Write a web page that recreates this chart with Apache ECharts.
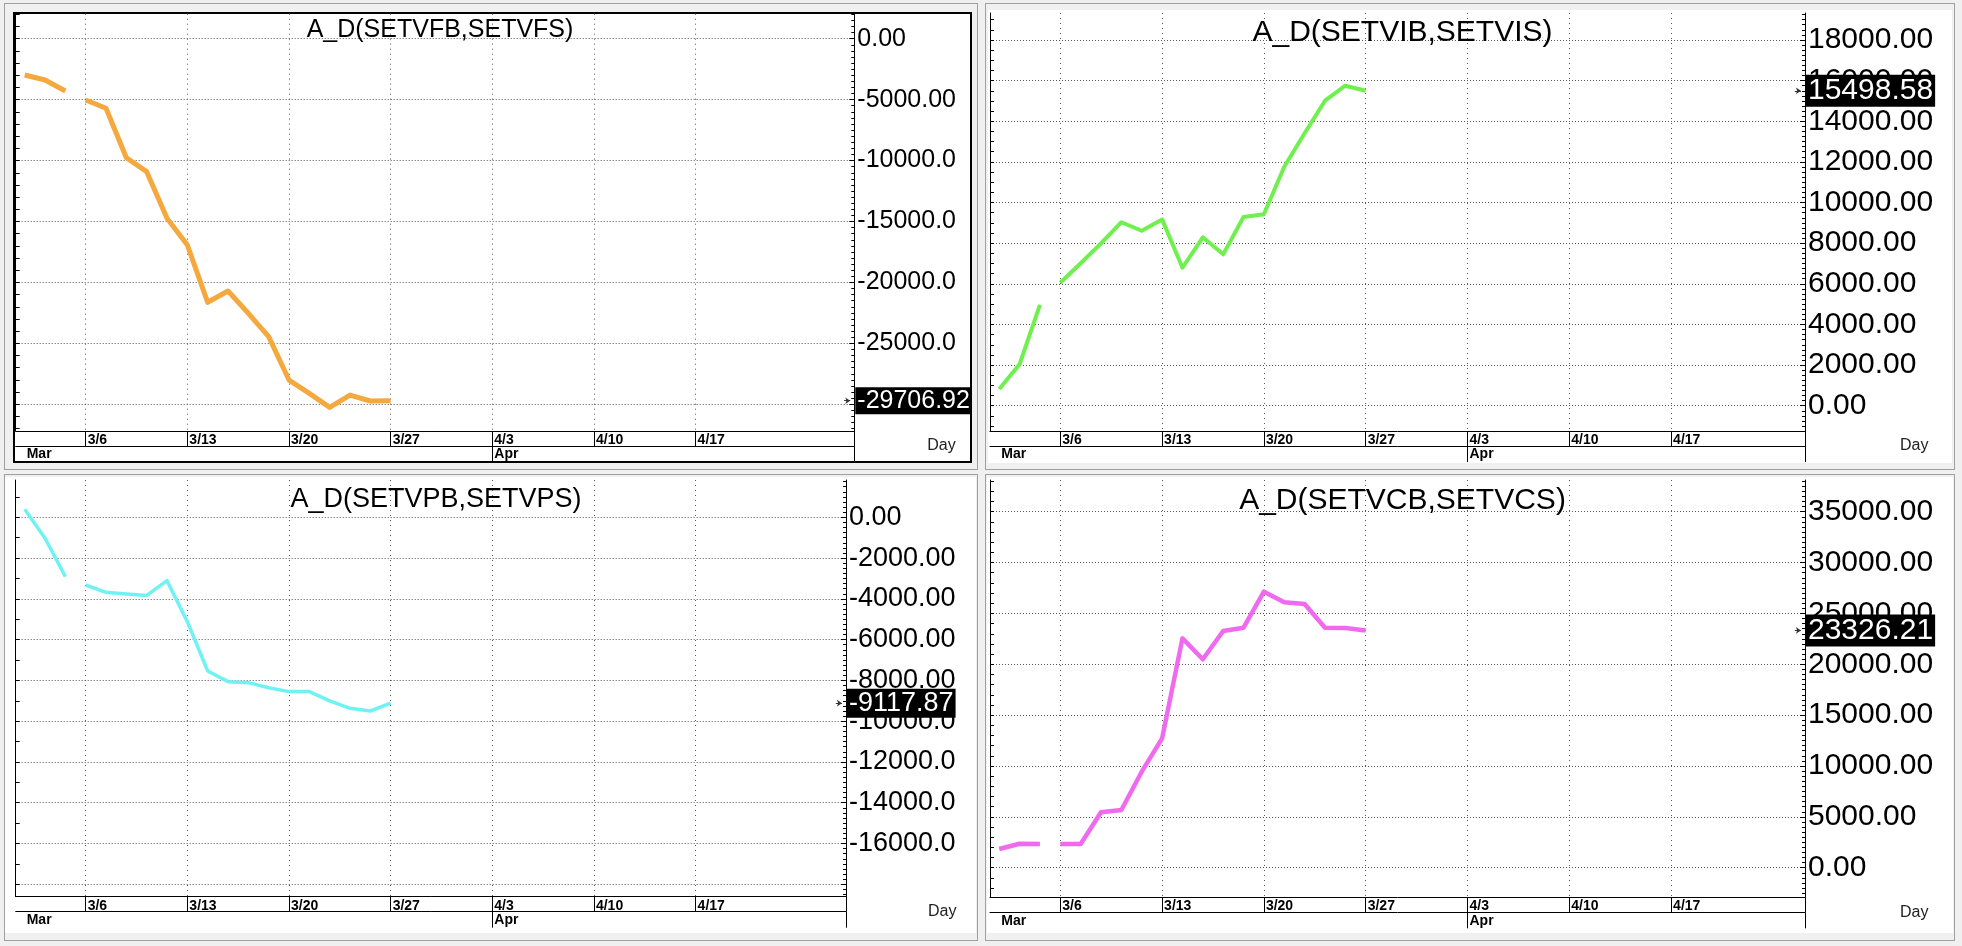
<!DOCTYPE html>
<html>
<head>
<meta charset="utf-8">
<script src="https://cdn.jsdelivr.net/npm/echarts@6/dist/echarts.min.js"></script>
<style>
html,body{margin:0;padding:0;background:#f0f0f0;}
#wrap{position:relative;width:1962px;height:946px;overflow:hidden;background:#f0f0f0;}
.pf{position:absolute;box-sizing:border-box;}
#chart{position:absolute;left:0;top:0;width:1962px;height:946px;}
</style>
</head>
<body>
<div id="wrap">
  <div class="pf" style="left:4px;top:3px;width:974px;height:467px;border:1px solid #a0a0a0;"></div>
  <div class="pf" style="left:13px;top:12px;width:959px;height:451px;border:2px solid #000;background:#fff;"></div>
  <div class="pf" style="left:985px;top:3px;width:970px;height:467px;border:1px solid #a0a0a0;"></div>
  <div class="pf" style="left:988px;top:10px;width:964px;height:453px;background:#fff;"></div>
  <div class="pf" style="left:4px;top:474px;width:974px;height:467px;border:1px solid #a0a0a0;"></div>
  <div class="pf" style="left:5px;top:477px;width:971px;height:456px;background:#fff;"></div>
  <div class="pf" style="left:985px;top:474px;width:970px;height:467px;border:1px solid #a0a0a0;"></div>
  <div class="pf" style="left:987px;top:477px;width:966px;height:456px;background:#fff;"></div>
  <div id="chart"></div>
</div>
<script>
// ---------- data ----------
const dates = ['3/1','3/2','3/3','3/6','3/7','3/8','3/9','3/10','3/13','3/14','3/15','3/16','3/17','3/20','3/21','3/22','3/23','3/24','3/27'];
const dayIndex = [0,1,2,3,4,5,6,7,8,9,10,11,12,13,14,15,16,17,18]; // trading-day slot of each date
const gapAfter = '3/3'; // line is broken between this date and the next

const weekLabels = ['3/6','3/13','3/20','3/27','4/3','4/10','4/17'];
const weekIndex  = [3,8,13,18,23,28,33];
const monthLabels = ['Mar','Apr'];
const monthIndex  = [0,23];

const titles = ['A_D(SETVFB,SETVFS)','A_D(SETVIB,SETVIS)','A_D(SETVPB,SETVPS)','A_D(SETVCB,SETVCS)'];

const valuesVF = [-2980,-3390,-4290,-5030,-5710,-9770,-10910,-14740,-16930,-21630,-20700,-22530,-24450,-28010,-29100,-30250,-29240,-29730,-29706.92];
const valuesVI = [820,2040,4960,6050,7010,7990,9030,8610,9170,6790,8290,7450,9290,9420,11760,13410,15010,15750,15498.58];
const valuesVP = [390,-1030,-2910,-3320,-3680,-3760,-3830,-3110,-5120,-7540,-8060,-8110,-8360,-8550,-8550,-9000,-9370,-9500,-9117.87];
const valuesVC = [1840,2360,2330,2330,2330,5450,5670,9440,12720,22550,20490,23270,23600,27140,26090,25930,23600,23570,23326.21];

const gridTicksVF  = [0,-5000,-10000,-15000,-20000,-25000,-30000];
const labelTicksVF = [0,-5000,-10000,-15000,-20000,-25000];
const gridTicksVI  = [0,2000,4000,6000,8000,10000,12000,14000,16000,18000];
const labelTicksVI = [0,2000,4000,6000,8000,10000,12000,14000,16000,18000];
const gridTicksVP  = [0,-2000,-4000,-6000,-8000,-10000,-12000,-14000,-16000,-18000];
const labelTicksVP = [0,-2000,-4000,-6000,-8000,-10000,-12000,-14000,-16000];
const gridTicksVC  = [0,5000,10000,15000,20000,25000,30000,35000];
const labelTicksVC = [0,5000,10000,15000,20000,25000,30000,35000];

// ---------- layout / style ----------
const FONT = '"Liberation Sans", Arial, Helvetica, sans-serif';
const panels = [
  {title:titles[0], values:valuesVF, gridTicks:gridTicksVF, labelTicks:labelTicksVF,
   grid:{left:15.7, top:13.7, width:838.6, height:417.3}, x:[-0.443,40.806], y:[-32190,2051],
   rMinor:500, lMinor:1000, color:'#F4A83E', lw:5, font:25, titleX:435, titleTop:13, dayGap:73},
  {title:titles[1], values:valuesVI, gridTicks:gridTicksVI, labelTicks:labelTicksVI,
   grid:{left:990, top:13, width:815, height:418}, x:[-0.453,39.577], y:[-1245,19328],
   rMinor:250, lMinor:500, color:'#6FF04E', lw:4, font:30, titleX:1397.5, titleTop:12.8, dayGap:95},
  {title:titles[2], values:valuesVP, gridTicks:gridTicksVP, labelTicks:labelTicksVP,
   grid:{left:15.7, top:480, width:830.3, height:416.7}, x:[-0.443,40.398], y:[-18608,1829],
   rMinor:250, lMinor:1000, color:'#70F2F4', lw:3.5, font:27, titleX:431, titleTop:480.7, dayGap:82},
  {title:titles[3], values:valuesVC, gridTicks:gridTicksVC, labelTicks:labelTicksVC,
   grid:{left:990, top:480, width:815, height:417.3}, x:[-0.453,39.577], y:[-2910,38118],
   rMinor:500, lMinor:1000, color:'#F06AF0', lw:4.5, font:30, titleX:1397.5, titleTop:480.5, dayGap:95}
];

function minorList(min, max, step){
  const out = [];
  for (let v = Math.ceil(min/step)*step; v <= max; v += step) out.push(v);
  return out;
}
function buildData(values){
  const out = [];
  dates.forEach((d,i)=>{
    out.push([dayIndex[i], values[i]]);
    if (d === gapAfter) out.push([dayIndex[i]+0.5, '-']);
  });
  return out;
}
const fmtY = v => v.toFixed(2).slice(0,8);

const option = {animation:false, backgroundColor:'transparent', title:[], grid:[], xAxis:[], yAxis:[], series:[]};

panels.forEach((p,i)=>{
  option.title.push({text:p.title, left:p.titleX, top:p.titleTop, textAlign:'center',
    textStyle:{fontFamily:FONT, fontSize:p.font, fontWeight:'normal', color:'#000'}});
  option.grid.push(Object.assign({containLabel:false, show:false}, p.grid));
  // date row axis
  option.xAxis.push({type:'value', gridIndex:i, min:p.x[0], max:p.x[1], position:'bottom',
    axisLine:{show:true, onZero:false, lineStyle:{color:'#000', width:1}},
    axisTick:{show:true, inside:false, length:15, customValues:[...weekIndex, p.x[1]], lineStyle:{color:'#000', width:1}},
    axisLabel:{show:true, customValues:weekIndex, formatter:v=>weekLabels[weekIndex.indexOf(v)],
      align:'left', verticalAlign:'top', margin:2, padding:[0,0,0,2],
      fontFamily:FONT, fontSize:14, fontWeight:'bold', color:'#000'},
    splitLine:{show:true, lineStyle:{color:'#555', width:1, type:[1,4]}}
  });
  // month row axis
  option.xAxis.push({type:'value', gridIndex:i, min:p.x[0], max:p.x[1], position:'bottom', offset:15,
    axisLine:{show:true, onZero:false, lineStyle:{color:'#000', width:1}},
    axisTick:{show:true, inside:false, length:16, customValues:[monthIndex[1], p.x[1]], lineStyle:{color:'#000', width:1}},
    axisLabel:{show:true, customValues:monthIndex, formatter:v=>monthLabels[monthIndex.indexOf(v)],
      align:'left', verticalAlign:'top', margin:1.5, padding:[0,0,0,2],
      fontFamily:FONT, fontSize:14, fontWeight:'bold', color:'#000'},
    splitLine:{show:false},
    name:'Day', nameLocation:'end', nameGap:p.dayGap,
    nameTextStyle:{fontFamily:FONT, fontSize:16, color:'#222', align:'left', verticalAlign:'middle'}
  });
  // right value axis with labels + grid lines
  option.yAxis.push({type:'value', gridIndex:i, min:p.y[0], max:p.y[1], position:'right',
    axisLine:{show:true, onZero:false, lineStyle:{color:'#000', width:1}},
    axisTick:{show:true, inside:true, length:5, customValues:p.gridTicks, lineStyle:{color:'#000'}},
    axisLabel:{show:true, customValues:p.labelTicks, formatter:fmtY, margin:3,
      fontFamily:FONT, fontSize:p.font, color:'#000'},
    splitLine:{show:true, lineStyle:{color:'#555', width:1, type:[1,2]}}
  });
  // left axis (minor ticks only)
  option.yAxis.push({type:'value', gridIndex:i, min:p.y[0], max:p.y[1], position:'left',
    axisLine:{show:true, onZero:false, lineStyle:{color:'#000', width:1}},
    axisTick:{show:true, inside:true, length:4, customValues:minorList(p.y[0],p.y[1],p.lMinor), lineStyle:{color:'#000'}},
    axisLabel:{show:false}, splitLine:{show:false}
  });
  // right minor ticks
  option.yAxis.push({type:'value', gridIndex:i, min:p.y[0], max:p.y[1], position:'right',
    axisLine:{show:false, onZero:false},
    axisTick:{show:true, inside:true, length:3, customValues:minorList(p.y[0],p.y[1],p.rMinor), lineStyle:{color:'#000'}},
    axisLabel:{show:false}, splitLine:{show:false}
  });
  const last = p.values[p.values.length-1];
  option.series.push({type:'line', xAxisIndex:2*i, yAxisIndex:3*i, data:buildData(p.values),
    showSymbol:false, symbol:'none', connectNulls:false,
    lineStyle:{color:p.color, width:p.lw, join:'round'}, z:3,
    markLine:{silent:true, symbol:['none','arrow'], symbolSize:[5,5], animation:false,
      lineStyle:{color:'rgba(0,0,0,0)', width:1, type:'solid'},
      label:{show:true, position:'end', distance:1, formatter:()=>last.toFixed(2),
        backgroundColor:'#000', color:'#fff', fontFamily:FONT, fontSize:p.font,
        padding:[1,2,0,2], lineHeight:p.font+1, opacity:1},
      data:[
        {yAxis:last},
        [{coord:[p.x[1]-0.5, last], lineStyle:{color:'#333', width:1}, label:{show:false}},
         {coord:[p.x[1]-0.2, last], lineStyle:{color:'#333', width:1}, label:{show:false}}]
      ]}
  });
});

const chart = echarts.init(document.getElementById('chart'), null, {renderer:'canvas'});
chart.setOption(option);
</script>
</body>
</html>
